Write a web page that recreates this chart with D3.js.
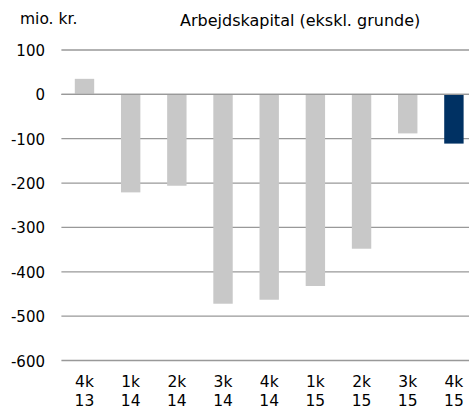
<!DOCTYPE html>
<html>
<head>
<meta charset="utf-8">
<script src="https://cdn.jsdelivr.net/npm/d3@7"></script>
<style>
  html, body { margin: 0; padding: 0; background: #fff; }
  svg text { font-family: "DejaVu Sans", Verdana, sans-serif; fill: #000; }
</style>
</head>
<body>
<svg id="chart" width="469" height="409"></svg>
<script>
// kvartaler, to linjer pr. label
var quarters = ['4k', '1k', '2k', '3k', '4k', '1k', '2k', '3k', '4k'];
var years    = ['13', '14', '14', '14', '14', '15', '15', '15', '15'];
var values   = [35, -221, -206, -472, -463, -432, -348, -88, -111];
var yTicks   = [100, 0, -100, -200, -300, -400, -500, -600];

var svg = d3.select('#chart');
var W = 469;
var mLeft = 61.4, mRight = 477, mTop = 50, mBottom = 360.5;

var x = d3.scaleBand().domain(d3.range(values.length)).range([mLeft, mRight]).paddingInner(0.58).paddingOuter(0.29);
var y = d3.scaleLinear().domain([-600, 100]).range([mBottom, mTop]);

// gitterlinjer
svg.append('g').selectAll('line').data(yTicks).enter().append('line')
  .attr('x1', mLeft).attr('x2', W)
  .attr('y1', function (d) { return y(d); }).attr('y2', function (d) { return y(d); })
  .attr('stroke', '#999').attr('stroke-width', 1.3);

// y-akse labels
svg.append('g').selectAll('text').data(yTicks).enter().append('text')
  .attr('x', 45).attr('y', function (d) { return y(d) + 6; })
  .attr('text-anchor', 'end').attr('font-size', 15)
  .text(function (d) { return d; });

// søjler
svg.append('g').selectAll('rect').data(values).enter().append('rect')
  .attr('x', function (d, i) { return x(i); })
  .attr('width', x.bandwidth())
  .attr('y', function (d) { return y(Math.max(0, d)); })
  .attr('height', function (d) { return Math.abs(y(d) - y(0)); })
  .attr('fill', function (d, i) { return i === values.length - 1 ? '#003163' : '#c8c8c8'; });

// nul-linje ovenpå
svg.append('line').attr('x1', mLeft).attr('x2', W).attr('y1', y(0)).attr('y2', y(0))
  .attr('stroke', '#999').attr('stroke-width', 1.3);

// x-akse labels
var xl = svg.append('g').selectAll('text').data(quarters).enter().append('text')
  .attr('text-anchor', 'middle').attr('font-size', 15.5)
  .attr('x', function (d, i) { return x(i) + x.bandwidth() / 2; });
xl.append('tspan').attr('y', 387).text(function (d) { return d; });
xl.append('tspan').attr('x', function (d, i) { return x(i) + x.bandwidth() / 2; })
  .attr('y', 406).text(function (d, i) { return years[i]; });

svg.append('text').attr('x', 20).attr('y', 23.5).attr('font-size', 15.5).text('mio. kr.');
svg.append('text').attr('x', 180).attr('y', 25.5).attr('font-size', 16).text('Arbejdskapital (ekskl. grunde)');
</script>
</body>
</html>
